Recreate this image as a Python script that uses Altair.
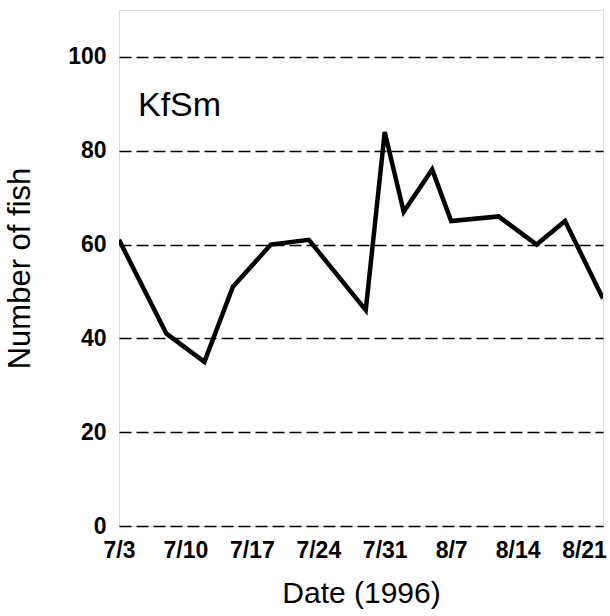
import altair as alt
import pandas as pd

dates = ["1996-07-03", "1996-07-08", "1996-07-12", "1996-07-15", "1996-07-19",
         "1996-07-23", "1996-07-29", "1996-07-31", "1996-08-02", "1996-08-05",
         "1996-08-07", "1996-08-12", "1996-08-16", "1996-08-19", "1996-08-23"]
fish = [61, 41, 35, 51, 60, 61, 46, 84, 67, 76, 65, 66, 60, 65, 48.5]

tick_days = [3, 10, 17, 24, 31, 7, 14, 21]
tick_months = [7, 7, 7, 7, 7, 8, 8, 8]
y_ticks = [0, 20, 40, 60, 80, 100]

label_text = ["KfSm"]
label_date = ["1996-07-05"]
label_y = [87.5]

df = pd.DataFrame({"date": dates, "fish": fish})
lab = pd.DataFrame({"date": label_date, "y": label_y, "text": label_text})

x_scale = alt.Scale(
    type="utc",
    domain=[alt.DateTime(year=1996, month=7, date=3, utc=True),
            alt.DateTime(year=1996, month=8, date=23, utc=True)],
)
y_scale = alt.Scale(domain=[0, 110], nice=False)

x_axis = alt.Axis(
    values=[alt.DateTime(year=1996, month=m, date=d, utc=True)
            for m, d in zip(tick_months, tick_days)],
    labelExpr="utcFormat(datum.value, '%-m/%-d')",
    title="Date (1996)",
    grid=False, ticks=False, domain=False,
    labelFont="Liberation Sans", labelFontSize=23, labelFontWeight="bold",
    labelColor="black", labelPadding=13, labelFlush=False,
    titleFont="Liberation Sans", titleFontSize=30, titleFontWeight="normal",
    titleColor="black", titlePadding=16,
)
y_axis = alt.Axis(
    values=y_ticks, title="Number of fish",
    grid=True, gridColor="black", gridDash=[12, 5], gridWidth=1.5,
    ticks=False, domain=False,
    labelFont="Liberation Sans", labelFontSize=23, labelFontWeight="bold",
    labelColor="black", labelPadding=13,
    titleFont="Liberation Sans", titleFontSize=31, titleFontWeight="normal",
    titleColor="black", titlePadding=31,
)

line = alt.Chart(df).mark_line(color="black", strokeWidth=4.5, clip=True).encode(
    x=alt.X("date:T", scale=x_scale, axis=x_axis),
    y=alt.Y("fish:Q", scale=y_scale, axis=y_axis),
)

text = alt.Chart(lab).mark_text(
    align="left", baseline="alphabetic", font="Liberation Sans",
    fontSize=34, color="black",
).encode(
    x=alt.X("date:T", scale=x_scale),
    y=alt.Y("y:Q", scale=y_scale),
    text="text:N",
)

chart = (line + text).properties(
    width=484, height=516,
    autosize=alt.AutoSizeParams(type="none"),
    padding={"left": 119, "top": 10, "right": 7, "bottom": 90},
).configure_view(stroke="black", strokeWidth=2).configure(background="white")

chart.save("out.html", embed_options={"renderer": "svg", "actions": False})
